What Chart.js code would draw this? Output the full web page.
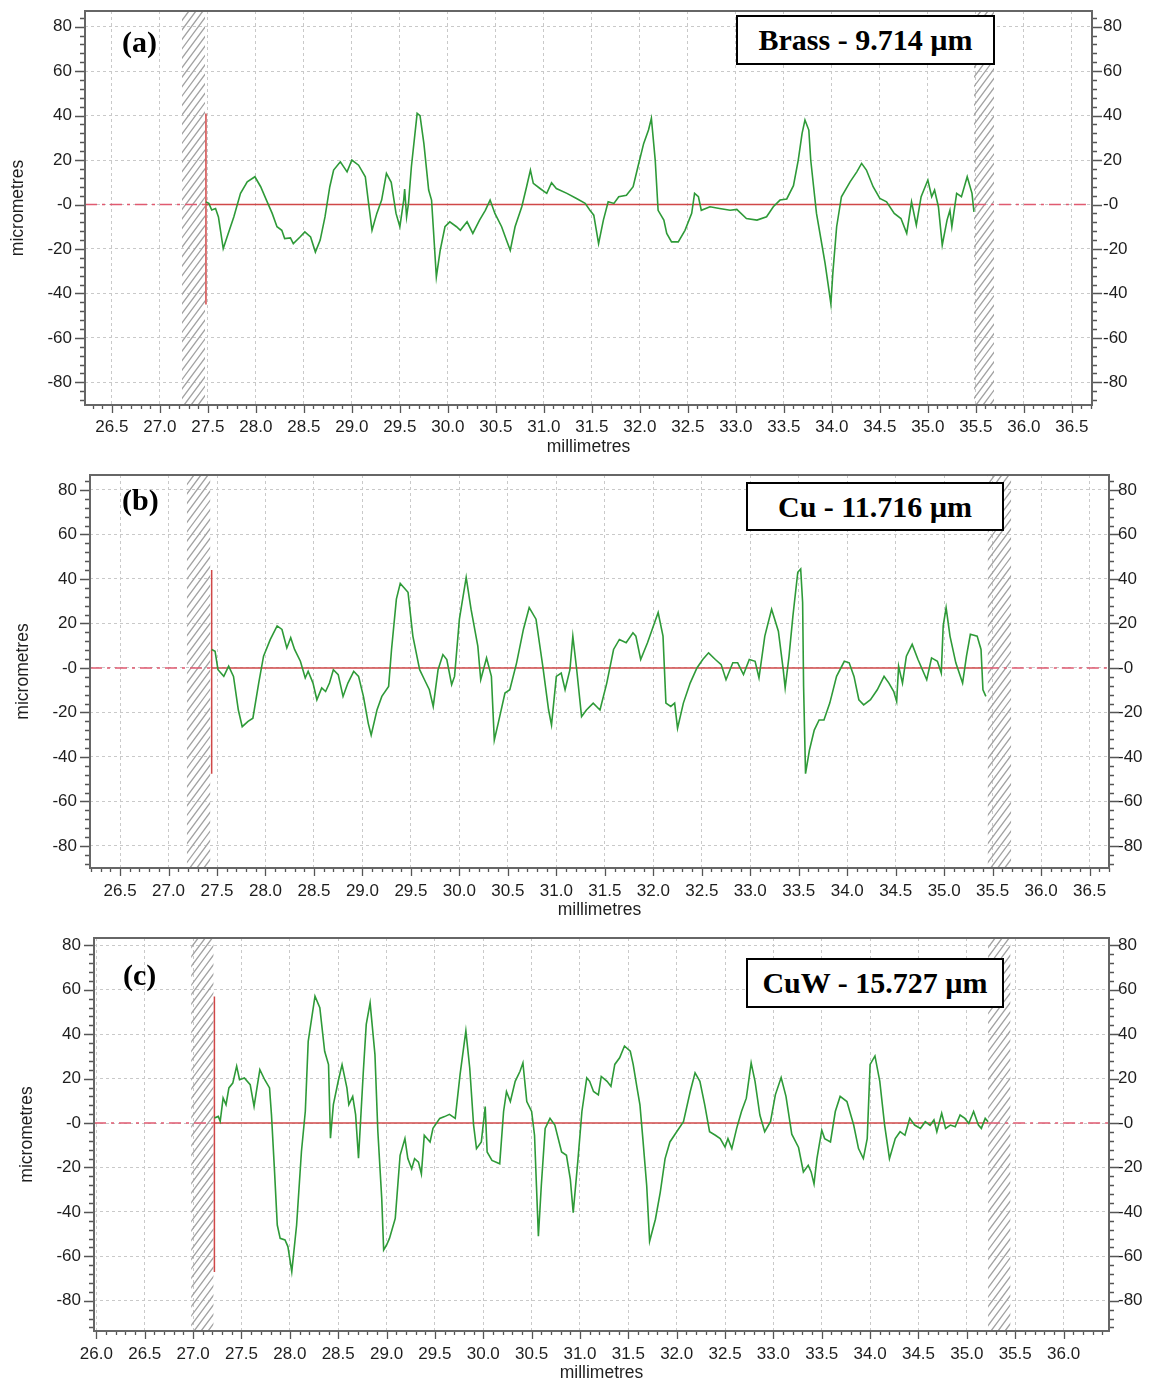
<!DOCTYPE html>
<html>
<head>
<meta charset="utf-8">
<title>Surface profiles</title>
<script src="https://cdn.jsdelivr.net/npm/chart.js@4.4.0/dist/chart.umd.min.js"></script>
<style>
    body { margin: 0; background: #fff; }
    #wrap { position: relative; width: 1151px; height: 1382px; overflow: hidden; }
    canvas { position: absolute; left: 0; }
    .tag { position: absolute; font: bold 30px "Liberation Serif", "Times New Roman", serif; line-height: 1; }
    .box {
        position: absolute; box-sizing: border-box; border: 2.5px solid #000; background: #fff;
        display: flex; align-items: center; justify-content: center;
        font: bold 30px "Liberation Serif", "Times New Roman", serif; white-space: nowrap;
    }
</style>
</head>
<body>
<div id="wrap">
    <canvas id="chartA" width="1151" height="462" style="top:0px"></canvas>
    <canvas id="chartB" width="1151" height="460" style="top:464px"></canvas>
    <canvas id="chartC" width="1151" height="457" style="top:925px"></canvas>

    <div class="tag" style="left:122px;top:27px">(a)</div>
    <div class="tag" style="left:122px;top:485px">(b)</div>
    <div class="tag" style="left:123px;top:960px">(c)</div>

    <div class="box" style="left:736px;top:15px;width:259px;height:50px">Brass - 9.714 µm</div>
    <div class="box" style="left:746px;top:482px;width:258px;height:49px">Cu - 11.716 µm</div>
    <div class="box" style="left:746px;top:958px;width:258px;height:50px">CuW - 15.727 µm</div>
</div>

<script>
// Ticks
const yTicks = [-80, -60, -40, -20, 0, 20, 40, 60, 80];
const xTicksAB = [26.5, 27.0, 27.5, 28.0, 28.5, 29.0, 29.5, 30.0, 30.5, 31.0, 31.5,
                  32.0, 32.5, 33.0, 33.5, 34.0, 34.5, 35.0, 35.5, 36.0, 36.5];
const xTicksC = [26.0, 26.5, 27.0, 27.5, 28.0, 28.5, 29.0, 29.5, 30.0, 30.5, 31.0,
                 31.5, 32.0, 32.5, 33.0, 33.5, 34.0, 34.5, 35.0, 35.5, 36.0];

// (a) Brass profile: millimetres / micrometres
const brassMm = [
    27.48, 27.51, 27.54, 27.58, 27.61, 27.66, 27.70, 27.77, 27.84, 27.91,
    27.99, 28.05, 28.11, 28.17, 28.22, 28.27, 28.30, 28.36, 28.39, 28.46,
    28.51, 28.57, 28.62, 28.67, 28.72, 28.77, 28.81, 28.88, 28.95, 29.00,
    29.07, 29.14, 29.17, 29.21, 29.26, 29.31, 29.36, 29.41, 29.46, 29.50,
    29.54, 29.55, 29.57, 29.59, 29.62, 29.68, 29.71, 29.75, 29.80, 29.83,
    29.85, 29.88, 29.92, 29.97, 30.02, 30.09, 30.13, 30.20, 30.26, 30.33,
    30.39, 30.44, 30.49, 30.56, 30.61, 30.65, 30.70, 30.77, 30.82, 30.86,
    30.89, 30.96, 31.03, 31.08, 31.13, 31.24, 31.34, 31.43, 31.48, 31.52,
    31.57, 31.62, 31.67, 31.73, 31.78, 31.86, 31.93, 31.98, 32.04, 32.09,
    32.12, 32.16, 32.19, 32.25, 32.28, 32.33, 32.40, 32.47, 32.54, 32.57,
    32.61, 32.64, 32.73, 32.83, 32.94, 33.01, 33.11, 33.22, 33.32, 33.39,
    33.46, 33.53, 33.60, 33.65, 33.69, 33.72, 33.76, 33.78, 33.81, 33.84,
    33.90, 33.93, 33.96, 33.99, 34.01, 34.05, 34.10, 34.19, 34.26, 34.31,
    34.36, 34.43, 34.50, 34.57, 34.65, 34.72, 34.78, 34.83, 34.88, 34.93,
    35.00, 35.04, 35.07, 35.11, 35.15, 35.20, 35.23, 35.25, 35.30, 35.35,
    35.41, 35.46, 35.48
];
const brassUm = [
    1.2, 0.5, -2.5, -1.8, -5.6, -19.8, -14.6, -5.6, 5, 10.2,
    12.5, 8, 2, -4, -10, -11.6, -15.3, -15, -17.6, -14.6,
    -12.3, -14.6, -21.4, -16, -5.6, 8, 15.5, 19.2, 14.7, 20,
    17.7, 12.5, 2, -11.6, -4, 2, 14, 10, -4, -10,
    2, 7, -5.6, 0.5, 17, 41, 40, 27.5, 6.5, 2,
    -11.6, -32.6, -20.6, -10, -7.8, -10, -11.6, -7.8, -13, -7,
    -2.6, 2, -4, -10, -16, -20.6, -10, -1, 8, 15.5,
    9.5, 7.2, 5, 9.8, 7.2, 5, 2.7, 0.5, -2.6, -4.8,
    -17.6, -7, 1.2, 0.5, 3.5, 4.2, 8, 17, 27.5, 33.5,
    38.8, 20, -2.6, -7, -13, -16.8, -16.8, -11.6, -4, 5,
    3.5, -2.6, -1, -1.8, -2.6, -2.2, -6.3, -7, -5.5, -1,
    2, 2.5, 8.5, 20, 32, 38, 33.5, 20, 8, -4,
    -19, -26.6, -35.6, -44.7, -31, -10, 3.5, 10.2, 14.7, 18.5,
    15.5, 8, 2.7, 1.2, -4, -6.3, -13, 1.2, -9.3, 3.5,
    11, 3.5, 6.5, -1, -18.3, -7, -2.6, -10, 5, 3.5,
    12.5, 5, -3.3
];
const brassRef = [27.48, 35.48];            // evaluation start / end
const brassMark = [41, -45];                // red start marker extent
const brassHatch = [27.23, 27.47, 35.48, 35.69];

// (b) Cu profile
const cuMm = [
    27.445, 27.48, 27.51, 27.57, 27.62, 27.67, 27.72, 27.76, 27.82, 27.87,
    27.93, 27.98, 28.05, 28.12, 28.17, 28.22, 28.26, 28.30, 28.36, 28.41,
    28.44, 28.49, 28.53, 28.58, 28.62, 28.66, 28.70, 28.75, 28.80, 28.85,
    28.91, 28.96, 29.01, 29.06, 29.09, 29.15, 29.20, 29.27, 29.30, 29.35,
    29.39, 29.47, 29.52, 29.59, 29.64, 29.69, 29.73, 29.78, 29.83, 29.87,
    29.92, 29.95, 30.00, 30.07, 30.12, 30.19, 30.22, 30.28, 30.33, 30.36,
    30.40, 30.47, 30.52, 30.59, 30.66, 30.72, 30.79, 30.86, 30.92, 30.95,
    31.00, 31.05, 31.09, 31.14, 31.17, 31.21, 31.26, 31.31, 31.38, 31.45,
    31.52, 31.59, 31.65, 31.72, 31.79, 31.82, 31.87, 31.94, 32.05, 32.10,
    32.13, 32.18, 32.22, 32.25, 32.31, 32.38, 32.45, 32.51, 32.57, 32.64,
    32.70, 32.75, 32.82, 32.87, 32.93, 32.99, 33.05, 33.09, 33.15, 33.22,
    33.29, 33.34, 33.36, 33.40, 33.44, 33.49, 33.52, 33.54, 33.55, 33.57,
    33.61, 33.66, 33.71, 33.76, 33.82, 33.89, 33.97, 34.02, 34.07, 34.12,
    34.17, 34.24, 34.31, 34.38, 34.43, 34.48, 34.51, 34.53, 34.57, 34.61,
    34.67, 34.73, 34.82, 34.87, 34.93, 34.97, 34.99, 35.02, 35.06, 35.12,
    35.19, 35.23, 35.27, 35.34, 35.38, 35.40, 35.43
];
const cuUm = [
    8.3, 7.5, -0.8, -3.8, 0.8, -3.8, -18.9, -26.4, -24, -22.6,
    -6.8, 5.3, 12.8, 18.9, 17.3, 9, 13.6, 8.3, 3, -4.5,
    -1.5, -6.8, -14.3, -9, -10.6, -6.8, -0.8, -3, -12.8, -6.8,
    -1.5, -3.8, -12.8, -24.9, -30.2, -18.9, -12.8, -8.3, 8.3, 30.9,
    38, 34, 14.3, -0.8, -5.3, -9.8, -17.3, -0.8, 6, 3.8,
    -7.5, -3.8, 21.9, 40.7, 26.4, 9.8, -5.3, 4.5, -3.8, -32.4,
    -24.9, -11.3, -9.8, 2.3, 17.3, 27.1, 21.9, 0.8, -18.9, -25.6,
    -3.8, -2.3, -9.8, -0.8, 14.3, -0.8, -21.9, -18.9, -15.8, -18.9,
    -6.8, 8.3, 12.8, 11.3, 15.8, 14.3, 3.8, 11.3, 24.9, 14.3,
    -15.8, -17.3, -15.8, -27.1, -15.8, -6.8, 0, 3.8, 6.8, 3.8,
    1.5, -5.3, 2.3, 2.3, -3, 3.8, 3, -4.5, 14.3, 26.4,
    16.5, -0.8, -9, 5.3, 23.4, 43, 44.5, 29.4, -8.3, -47.5,
    -37, -27.9, -23.4, -23.4, -15.8, -3.8, 3, 2.3, -3.8, -14.3,
    -16.6, -14.3, -9.8, -3.8, -6.8, -10.6, -15.1, 0.8, -6.8, 5.3,
    10.6, 3.8, -5.3, 4.5, 3, -2.3, 18.9, 27.1, 14.3, 2.3,
    -6.8, 5.3, 15.1, 14.3, 8.3, -9.8, -12.8
];
const cuRef = [27.445, 35.44];
const cuMark = [44, -47.5];
const cuHatch = [27.19, 27.43, 35.45, 35.69];

// (c) CuW profile
const cuwMm = [
    27.22, 27.26, 27.28, 27.31, 27.34, 27.37, 27.41, 27.45, 27.48, 27.53,
    27.59, 27.63, 27.66, 27.69, 27.74, 27.79, 27.81, 27.84, 27.87, 27.90,
    27.95, 27.98, 28.02, 28.07, 28.12, 28.16, 28.19, 28.26, 28.31, 28.36,
    28.40, 28.42, 28.45, 28.50, 28.54, 28.59, 28.61, 28.65, 28.68, 28.71,
    28.76, 28.79, 28.83, 28.88, 28.91, 28.95, 28.97, 29.00, 29.03, 29.09,
    29.14, 29.19, 29.22, 29.26, 29.29, 29.33, 29.36, 29.39, 29.45, 29.48,
    29.55, 29.60, 29.65, 29.71, 29.76, 29.82, 29.86, 29.90, 29.93, 29.98,
    30.02, 30.04, 30.09, 30.17, 30.21, 30.24, 30.28, 30.33, 30.38, 30.41,
    30.45, 30.50, 30.53, 30.55, 30.57, 30.60, 30.64, 30.69, 30.74, 30.81,
    30.86, 30.90, 30.93, 30.98, 31.02, 31.07, 31.10, 31.14, 31.19, 31.22,
    31.28, 31.32, 31.36, 31.41, 31.46, 31.52, 31.55, 31.59, 31.62, 31.65,
    31.69, 31.72, 31.78, 31.83, 31.88, 31.93, 32.00, 32.07, 32.14, 32.19,
    32.24, 32.29, 32.34, 32.40, 32.45, 32.50, 32.53, 32.57, 32.62, 32.67,
    32.72, 32.77, 32.81, 32.86, 32.91, 32.97, 33.02, 33.08, 33.13, 33.19,
    33.26, 33.31, 33.36, 33.39, 33.42, 33.45, 33.50, 33.53, 33.59, 33.64,
    33.69, 33.76, 33.83, 33.88, 33.93, 33.97, 34.00, 34.05, 34.10, 34.15,
    34.20, 34.26, 34.31, 34.36, 34.41, 34.46, 34.52, 34.57, 34.62, 34.66,
    34.69, 34.74, 34.78, 34.83, 34.88, 34.93, 34.98, 35.02, 35.07, 35.12,
    35.15, 35.19, 35.22
];
const cuwUm = [
    2.3, 3, 0.8, 11.3, 8.3, 15.8, 18, 25.6, 19.5, 20.3,
    17.3, 7.5, 15.8, 24, 19.5, 15.8, 3.8, -20.3, -45.9, -51.9,
    -52.6, -55.6, -66.9, -45.9, -12.8, 5.3, 36.8, 57.1, 51.9, 32.3,
    26.3, -6.8, 8.3, 18.8, 26.3, 15.8, 8.3, 12, 3.8, -15.8,
    23.3, 44.4, 54.1, 30.8, -3.8, -33.8, -57.1, -54.9, -51.9, -42.9,
    -14.5, -7, -16, -20.6, -16, -17.6, -22.9, -5.5, -8.5, -2.4,
    2.1, 2.9, 3.9, 2.1, 21.8, 41.5, 24.8, -0.9, -11.5, -8.5,
    7.4, -13, -16.8, -18.3, 5.2, 14.2, 9.7, 18.8, 23.3, 27.1,
    9.7, 5.2, -5.5, -28.2, -50.9, -28.2, -2.4, 2.1, -0.9, -13,
    -14.5, -25.2, -40.3, -16, 5.2, 20.3, 18.8, 14.2, 12.7, 21,
    18.8, 16.5, 26.4, 29.4, 34.7, 32.4, 26.4, 15.8, 8.2, -7,
    -28.2, -53.2, -43.3, -31.2, -16, -8.5, -3.9, 0.6, 14.2, 22.6,
    18.8, 8.2, -3.9, -5.5, -7, -10.8, -7, -11.5, -2.4, 5.2,
    11.2, 27.1, 18.8, 3.6, -3.9, 0.6, 12.7, 20.5, 12, -5,
    -11, -22, -19, -22, -27.4, -16, -3.2, -7, -8.5, 5.2,
    12, 9.7, -0.9, -11.5, -16, -7, 26.4, 30.2, 18.8, -0.9,
    -16, -7, -3.9, -5.5, 2.1, -0.9, -2.4, 0.6, -1, 1.4,
    -3.9, 4.4, -2.4, -0.9, -1.7, 3.6, 2.1, -0.2, 5.2, -0.9,
    -2.4, 2.1, 0.6
];
const cuwRef = [27.22, 35.22];
const cuwMark = [57, -67];
const cuwHatch = [26.98, 27.21, 35.22, 35.45];

// Layout of each panel (pixels) and axis ranges
const panels = [
    { id: 'chartA', mm: brassMm, um: brassUm, ref: brassRef, mark: brassMark, hatch: brassHatch,
      xTicks: xTicksAB, xMin: 26.22, xMax: 36.71, yMin: -90.2, yMax: 87.06,
      padTop: 11, leftW: 85, rightW: 59, axisH: 57,
      xLabPad: 14, yLabPad: 13, y2LabPad: 11, xTitlePad: 6, yTitlePad: 9 },
    { id: 'chartB', mm: cuMm, um: cuUm, ref: cuRef, mark: cuMark, hatch: cuHatch,
      xTicks: xTicksAB, xMin: 26.19, xMax: 36.70, yMin: -89.9, yMax: 86.7,
      padTop: 11, leftW: 90, rightW: 42, axisH: 56,
      xLabPad: 15, yLabPad: 13, y2LabPad: 9, xTitlePad: 5, yTitlePad: 14 },
    { id: 'chartC', mm: cuwMm, um: cuwUm, ref: cuwRef, mark: cuwMark, hatch: cuwHatch,
      xTicks: xTicksC, xMin: 25.975, xMax: 36.47, yMin: -93.6, yMax: 83.3,
      padTop: 13, leftW: 94, rightW: 42, axisH: 51,
      xLabPad: 15, yLabPad: 13, y2LabPad: 9, xTitlePad: 0, yTitlePad: 18 }
];

const tickFont = { family: '"Liberation Sans", Arial, sans-serif', size: 17, lineHeight: 1 };
const titleFont = { family: '"Liberation Sans", Arial, sans-serif', size: 17.5, lineHeight: 1 };
const textColor = '#1e1e1e';
const dashDot = [12, 5, 3, 5];

// hatched exclusion zones, frame and minor ticks
const decor = {
    id: 'decor',
    beforeDatasetsDraw(chart, args, opts) {
        const { ctx, chartArea: a, scales: { x } } = chart;
        const run = (a.bottom - a.top) / 1.35;
        for (let i = 0; i < opts.hatch.length; i += 2) {
            const x0 = x.getPixelForValue(opts.hatch[i]);
            const x1 = x.getPixelForValue(opts.hatch[i + 1]);
            ctx.save();
            ctx.beginPath();
            ctx.rect(x0, a.top, x1 - x0, a.bottom - a.top);
            ctx.clip();
            ctx.strokeStyle = '#a2a2a2';
            ctx.lineWidth = 1.3;
            ctx.beginPath();
            for (let k = x0 - run; k < x1; k += 7) {
                ctx.moveTo(k, a.bottom);
                ctx.lineTo(k + run, a.top);
            }
            ctx.stroke();
            ctx.restore();
        }
    },
    afterDraw(chart) {
        const { ctx, chartArea: a, scales: { x, y } } = chart;
        ctx.save();
        ctx.strokeStyle = '#555';
        ctx.lineWidth = 1.3;
        ctx.beginPath();
        for (let i = Math.ceil(x.min * 10); i <= Math.floor(x.max * 10); i++) {
            const px = Math.round(x.getPixelForValue(i / 10)) + 0.5;
            const len = i % 5 === 0 ? 8 : 4;
            ctx.moveTo(px, a.bottom);
            ctx.lineTo(px, a.bottom + len);
        }
        for (let v = Math.ceil(y.min / 4) * 4; v <= y.max; v += 4) {
            const py = Math.round(y.getPixelForValue(v)) + 0.5;
            const len = v % 20 === 0 ? 10 : 5;
            ctx.moveTo(a.left, py);
            ctx.lineTo(a.left - len, py);
            ctx.moveTo(a.right, py);
            ctx.lineTo(a.right + len, py);
        }
        ctx.stroke();
        ctx.strokeStyle = '#666';
        ctx.lineWidth = 2;
        ctx.strokeRect(a.left, a.top, a.right - a.left, a.bottom - a.top);
        ctx.restore();
    }
};

function yAxis(p, side) {
    return {
        type: 'linear',
        position: side,
        min: p.yMin,
        max: p.yMax,
        afterBuildTicks: s => { s.ticks = yTicks.map(v => ({ value: v })); },
        afterFit: s => {
            s.width = side === 'left' ? p.leftW : p.rightW;
            s.paddingTop = 0;       // keep the plot frame where the reference has it
            s.paddingBottom = 0;
        },
        grid: { color: '#c9c9c9', drawTicks: false, drawOnChartArea: side === 'left' },
        border: { display: false, dash: [3, 3] },
        ticks: {
            padding: side === 'left' ? p.yLabPad : p.y2LabPad,
            color: textColor, font: tickFont, autoSkip: false,
            callback: v => v === 0 ? '-0' : String(v)
        },
        title: {
            display: side === 'left', text: 'micrometres', color: textColor, font: titleFont,
            padding: { top: p.yTitlePad, bottom: 0 }
        }
    };
}

function makePanel(p) {
    const profile = p.mm.map((x, i) => ({ x: x, y: p.um[i] }));
    const flat = { pointRadius: 0, fill: false, tension: 0 };
    new Chart(document.getElementById(p.id), {
        type: 'line',
        data: {
            datasets: [
                Object.assign({ data: profile, borderColor: '#2e9a38', borderWidth: 1.6 }, flat),
                Object.assign({ data: [{ x: p.ref[0], y: p.mark[0] }, { x: p.ref[0], y: p.mark[1] }],
                                borderColor: '#d04848', borderWidth: 1.5 }, flat),
                Object.assign({ data: [{ x: p.ref[0], y: 0 }, { x: p.ref[1], y: 0 }],
                                borderColor: '#d04848', borderWidth: 1.5 }, flat),
                Object.assign({ data: [{ x: p.xMin, y: 0 }, { x: p.ref[0], y: 0 }],
                                borderColor: '#e05a70', borderWidth: 1.6, borderDash: dashDot }, flat),
                Object.assign({ data: [{ x: p.ref[1], y: 0 }, { x: p.xMax, y: 0 }],
                                borderColor: '#e05a70', borderWidth: 1.6, borderDash: dashDot }, flat)
            ]
        },
        options: {
            responsive: false,
            animation: false,
            layout: { padding: { top: p.padTop, left: 0, right: 0, bottom: 0 } },
            plugins: {
                legend: { display: false },
                tooltip: { enabled: false },
                decor: { hatch: p.hatch }
            },
            scales: {
                x: {
                    type: 'linear',
                    min: p.xMin,
                    max: p.xMax,
                    afterBuildTicks: s => { s.ticks = p.xTicks.map(v => ({ value: v })); },
                    afterFit: s => {
                        s.height = p.axisH;
                        s.paddingLeft = 0;
                        s.paddingRight = 0;
                    },
                    grid: { color: '#c9c9c9', drawTicks: false },
                    border: { display: false, dash: [3, 3] },
                    ticks: {
                        padding: p.xLabPad, color: textColor, font: tickFont,
                        autoSkip: false, maxRotation: 0,
                        callback: v => Number(v).toFixed(1)
                    },
                    title: {
                        display: true, text: 'millimetres', color: textColor, font: titleFont,
                        padding: { top: 0, bottom: p.xTitlePad }
                    }
                },
                y: yAxis(p, 'left'),
                y2: yAxis(p, 'right')
            }
        },
        plugins: [decor]
    });
}

panels.forEach(makePanel);
</script>
</body>
</html>
